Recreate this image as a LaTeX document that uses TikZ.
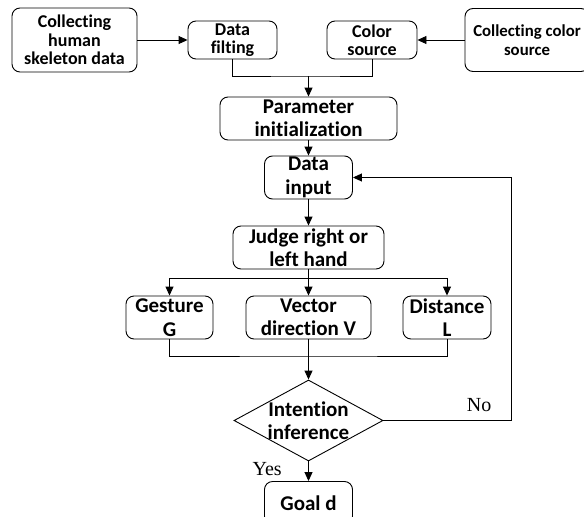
\documentclass[tikz,border=0pt]{standalone}
\usepackage{fontspec}
\setmainfont{Carlito}[Ligatures=NoCommon]
\newfontfamily\answerfont{Liberation Serif}
\usetikzlibrary{shapes.geometric,arrows.meta}

\begin{document}
\begin{tikzpicture}[x=1pt,y=1pt,>={Triangle[length=9pt,width=8pt]},line width=0.9pt,
    step node/.style={rectangle,rounded corners=8pt,draw,align=center,inner sep=0pt,
      minimum height=43pt,font=\bfseries\fontsize{21}{23.5}\selectfont},
    source node/.style={step node,font=\bfseries\fontsize{18}{18.5}\selectfont},
    test node/.style={diamond,draw,inner sep=0pt,minimum width=149pt,minimum height=81pt},
    answer/.style={font=\answerfont\fontsize{20}{22}\selectfont}]
  \useasboundingbox (0,0) rectangle (584,-517);
  % sources
  \node[source node,minimum width=125pt,minimum height=64pt] (skel) at (74.5,-40) {Collecting\\human\\skeleton data};
  \node[source node,minimum width=89pt,minimum height=38pt] (filt) at (232.5,-40) {Data\\filting};
  \node[source node,minimum width=90pt,minimum height=38pt] (color) at (372,-40) {Color\\source};
  \node[source node,minimum width=124pt,minimum height=63pt,font=\bfseries\fontsize{16.8}{18.5}\selectfont] (colsrc) at (527,-40) {Collecting color\\source};
  % main flow
  \node[step node,minimum width=177pt] (param) at (308.5,-118.5) {Parameter\\initialization};
  \node[step node,minimum width=88pt] (input) [below of=param,node distance=59pt] {Data\\input};
  \node[step node,minimum width=151pt] (judge) [below of=input,node distance=70pt] {Judge right or\\left hand};
  \node[step node,minimum width=125pt] (vec) [below of=judge,node distance=70pt] {Vector\\direction V};
  \node[step node,minimum width=87pt] (gest) [left of=vec,node distance=139pt] {Gesture\\G};
  \node[step node,minimum width=88pt] (dist) [right of=vec,node distance=138.5pt] {Distance\\L};
  \node[test node,label={[font=\bfseries\fontsize{21}{23.5}\selectfont,align=center]center:Intention\\inference}] (infer) [below of=vec,node distance=103pt] {};
  \node[step node,minimum width=88pt] (goal) [below of=infer,node distance=82.5pt] {Goal d};
  % connectors
  \coordinate (feed) at (308.5,-76);
  \coordinate (split) at (308.5,-278);
  \coordinate (gather) at (308.5,-356);
  \coordinate (back) at (511,-420.5);
  \draw[->] (skel) -- (filt);
  \draw[->] (colsrc) -- (color);
  \draw (filt) |- (feed) -| (color);
  \draw[->] (feed) -- (param);
  \draw[->] (param) -- (input);
  \draw[->] (input) -- (judge);
  \draw (judge) -- (split);
  \draw[->] (split) -| (gest);
  \draw[->] (split) -| (dist);
  \draw[->] (split) -- (vec);
  \draw (gest) |- (gather) -| (dist);
  \draw[->] (vec) -- (infer);
  \draw[->] (infer) -- node[answer,pos=0.39,left=23pt] {Yes} (goal);
  \draw[->] (infer) -- node[answer,pos=0.75,above=5pt] {No} (back) |- (input);
\end{tikzpicture}
\end{document}
